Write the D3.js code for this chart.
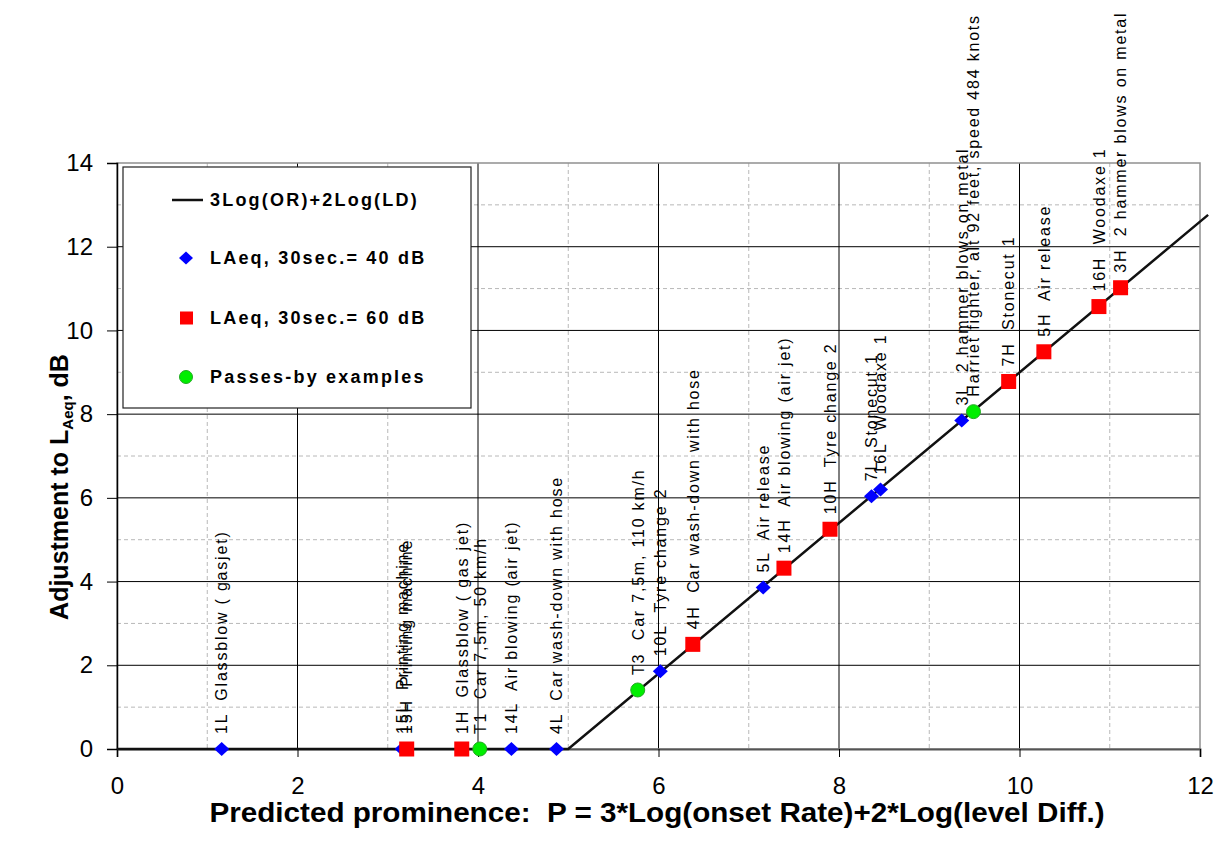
<!DOCTYPE html>
<html>
<head>
<meta charset="utf-8">
<script src="https://cdn.jsdelivr.net/npm/d3@7"></script>
<style>
  body { margin: 0; background: #fff; }
  svg { font-family: "Liberation Sans", Arial, sans-serif; }
</style>
</head>
<body>
<svg width="1217" height="848"></svg>
<script>
// sources measured at LAeq,30s = 40 dB (blue diamonds)
var low40 = [
  {id: "1L",  name: "Glassblow ( gasjet)",        x: 1.16,  y: 0},
  {id: "15L", name: "Printing machine",           x: 3.16,  y: 0},
  {id: "14L", name: "Air blowing (air jet)",      x: 4.37,  y: 0},
  {id: "4L",  name: "Car wash-down with hose",    x: 4.87,  y: 0},
  {id: "10L", name: "Tyre change 2",              x: 6.02,  y: 1.86},
  {id: "5L",  name: "Air release",                x: 7.16,  y: 3.86},
  {id: "7L",  name: "Stonecut 1",                 x: 8.36,  y: 6.04},
  {id: "16L", name: "Woodaxe 1",                  x: 8.46,  y: 6.2},
  {id: "3L",  name: "2 hammer blows on metal",    x: 9.36,  y: 7.85}
];

// same sources at LAeq,30s = 60 dB (red squares)
var high60 = [
  {id: "15H", name: "Printing machine",           x: 3.21,  y: 0},
  {id: "1H",  name: "Glassblow ( gas jet)",       x: 3.82,  y: 0},
  {id: "4H",  name: "Car wash-down with hose",    x: 6.38,  y: 2.5},
  {id: "14H", name: "Air blowing (air jet)",      x: 7.39,  y: 4.32},
  {id: "10H", name: "Tyre change 2",              x: 7.9,   y: 5.25},
  {id: "7H",  name: "Stonecut 1",                 x: 9.88,  y: 8.78},
  {id: "5H",  name: "Air release",                x: 10.27, y: 9.49},
  {id: "16H", name: "Woodaxe 1",                  x: 10.88, y: 10.57},
  {id: "3H",  name: "2 hammer blows on metal",    x: 11.12, y: 11.02}
];

// pass-by examples (green circles)
var passBy = [
  {id: "T1", name: "Car 7,5m, 50 km/h",           x: 4.02,  y: 0},
  {id: "T3", name: "Car 7,5m, 110 km/h",          x: 5.77,  y: 1.41},
  {id: "",   name: "Harriet fighter, alt 92 feet, speed 484 knots", x: 9.49, y: 8.06}
];

// 3Log(OR)+2Log(LD) curve
var curve = [[0, 0], [5, 0], [12.09, 12.76]];

var majorTicks = [0, 2, 4, 6, 8, 10, 12, 14];
var xMinor = [1, 3, 5, 7, 9, 11];
var yMinor = [1, 3, 5, 7, 9, 11, 13];

var legendItems = ["3Log(OR)+2Log(LD)", "LAeq, 30sec.= 40 dB", "LAeq, 30sec.= 60 dB", "Passes-by examples"];

var svg = d3.select("svg");
var pL = 117, pR = 1200, pT = 163, pB = 749;

var x = d3.scaleLinear().domain([0, 12]).range([pL, pR]);
var y = d3.scaleLinear().domain([0, 14]).range([pB, pT]);

// minor dashed grid
var grid = svg.append("g");
grid.selectAll(".vmin").data(xMinor).enter().append("line")
  .attr("x1", d => x(d)).attr("x2", d => x(d))
  .attr("y1", pT).attr("y2", pB)
  .attr("stroke", "#b8b8b8").attr("stroke-dasharray", "4,3");
grid.selectAll(".hmin").data(yMinor).enter().append("line")
  .attr("y1", d => y(d)).attr("y2", d => y(d))
  .attr("x1", pL).attr("x2", pR)
  .attr("stroke", "#b8b8b8").attr("stroke-dasharray", "4,3");

// major solid grid
grid.selectAll(".vmaj").data(majorTicks.filter(d => d > 0 && d < 12)).enter().append("line")
  .attr("x1", d => x(d)).attr("x2", d => x(d))
  .attr("y1", pT).attr("y2", pB)
  .attr("stroke", "#000").attr("stroke-width", 1);
grid.selectAll(".hmaj").data(majorTicks.filter(d => d > 0 && d < 14)).enter().append("line")
  .attr("y1", d => y(d)).attr("y2", d => y(d))
  .attr("x1", pL).attr("x2", pR)
  .attr("stroke", "#000").attr("stroke-width", 1);

// plot frame
svg.append("rect")
  .attr("x", pL).attr("y", pT)
  .attr("width", pR - pL).attr("height", pB - pT)
  .attr("fill", "none").attr("stroke", "#909090").attr("stroke-width", 1.5);

// axes
var xAxis = svg.append("g")
  .attr("transform", "translate(0," + pB + ")")
  .call(d3.axisBottom(x).tickValues([0, 2, 4, 6, 8, 10, 12]).tickSize(8).tickPadding(20));
var yAxis = svg.append("g")
  .attr("transform", "translate(" + pL + ",0)")
  .call(d3.axisLeft(y).tickValues(majorTicks).tickSize(10).tickPadding(14));
xAxis.select(".domain").attr("stroke", "#555").attr("stroke-width", 2);
yAxis.select(".domain").attr("stroke", "#000").attr("stroke-width", 1.5);
[xAxis, yAxis].forEach(function(a) {
  a.selectAll(".tick line").attr("stroke", "#000");
  a.selectAll("text")
    .style("font-family", "'Liberation Sans', Arial, sans-serif")
    .style("font-size", "24px")
    .attr("fill", "#000");
});

// curve
svg.append("path")
  .datum(curve)
  .attr("d", d3.line().x(d => x(d[0])).y(d => y(d[1])))
  .attr("fill", "none")
  .attr("stroke", "#111")
  .attr("stroke-width", 2.5);

// markers
var diamondPath = "M0,-7L7.5,0L0,7L-7.5,0Z";

svg.selectAll(".low").data(low40).enter().append("path")
  .attr("transform", d => "translate(" + x(d.x) + "," + y(d.y) + ")")
  .attr("d", diamondPath)
  .attr("fill", "#0000ff");

svg.selectAll(".high").data(high60).enter().append("rect")
  .attr("x", d => x(d.x) - 7.5).attr("y", d => y(d.y) - 7.5)
  .attr("width", 15).attr("height", 15)
  .attr("fill", "#ff0000");

svg.selectAll(".pass").data(passBy).enter().append("circle")
  .attr("cx", d => x(d.x)).attr("cy", d => y(d.y))
  .attr("r", 7)
  .attr("fill", "#00ee00").attr("stroke", "#22aa22").attr("stroke-width", 1);

// point labels, rotated
var allPts = low40.concat(high60).concat(passBy);
svg.selectAll(".lbl").data(allPts).enter().append("text")
  .attr("transform", d => "translate(" + x(d.x) + "," + (y(d.y) - 15) + ") rotate(-90)")
  .attr("dy", "0.36em")
  .style("white-space", "pre")
  .style("font-size", "16px")
  .style("letter-spacing", "1.8px")
  .attr("fill", "#000")
  .text(d => d.id ? d.id + "  " + d.name : d.name);

// legend
var lg = svg.append("g");
lg.append("rect")
  .attr("x", 123).attr("y", 167).attr("width", 348).attr("height", 241)
  .attr("fill", "#fff").attr("stroke", "#222").attr("stroke-width", 1.2);
var rowY = [200, 258, 318, 377];
lg.append("line").attr("x1", 172).attr("x2", 203).attr("y1", rowY[0]).attr("y2", rowY[0])
  .attr("stroke", "#111").attr("stroke-width", 2.5);
lg.append("path").attr("transform", "translate(186," + rowY[1] + ")")
  .attr("d", "M0,-6.5L7,0L0,6.5L-7,0Z").attr("fill", "#0000ff");
lg.append("rect").attr("x", 180).attr("y", rowY[2] - 6.5).attr("width", 13).attr("height", 13)
  .attr("fill", "#ff0000");
lg.append("circle").attr("cx", 186).attr("cy", rowY[3]).attr("r", 6.5)
  .attr("fill", "#00ee00").attr("stroke", "#22aa22");
lg.selectAll(".lt").data(legendItems).enter().append("text")
  .attr("x", 210).attr("y", (d, i) => rowY[i])
  .attr("dy", "0.36em")
  .style("font-size", "18px").style("font-weight", "bold")
  .style("letter-spacing", "2.2px")
  .attr("fill", "#000")
  .text(d => d);

// axis titles
svg.append("text")
  .attr("x", 657).attr("y", 822)
  .attr("text-anchor", "middle")
  .attr("textLength", 895).attr("lengthAdjust", "spacingAndGlyphs")
  .style("font-size", "27px").style("font-weight", "bold")
  .style("white-space", "pre")
  .text("Predicted prominence:  P = 3*Log(onset Rate)+2*Log(level Diff.)");

var yt = svg.append("text")
  .attr("transform", "translate(68,487) rotate(-90)")
  .attr("text-anchor", "middle")
  .style("font-size", "25px").style("font-weight", "bold");
yt.append("tspan").text("Adjustment to L");
yt.append("tspan").attr("font-size", "15px").attr("dy", 5).text("Aeq");
yt.append("tspan").attr("dy", -5).text(", dB");
</script>
</body>
</html>
